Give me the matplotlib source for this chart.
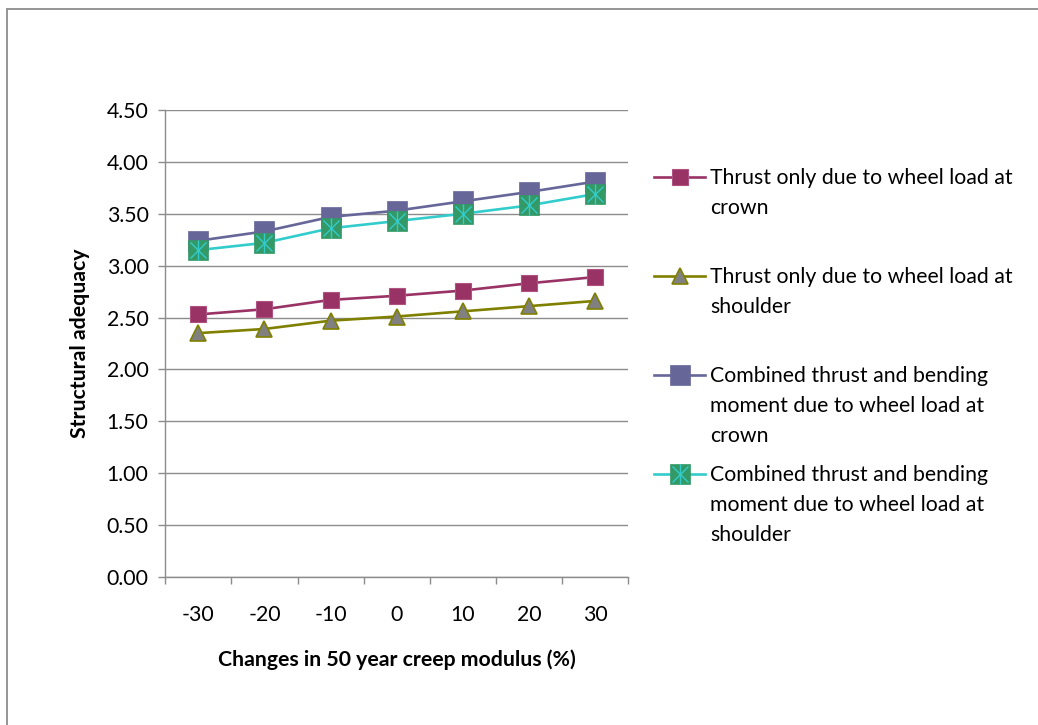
import matplotlib
matplotlib.use("Agg")
import matplotlib.pyplot as plt
from matplotlib.lines import Line2D
from matplotlib.patches import Rectangle

plt.rcParams['font.family'] = ['Lato', 'DejaVu Sans']

# Data
categories = ["-30", "-20", "-10", "0", "10", "20", "30"]
thrust_crown = [2.53, 2.58, 2.67, 2.71, 2.76, 2.83, 2.89]
thrust_shoulder = [2.35, 2.39, 2.47, 2.51, 2.56, 2.61, 2.66]
combined_crown = [3.24, 3.33, 3.47, 3.53, 3.62, 3.71, 3.81]
combined_shoulder = [3.15, 3.22, 3.36, 3.43, 3.50, 3.58, 3.69]
series_labels = [
    "Thrust only due to wheel load at\ncrown",
    "Thrust only due to wheel load at\nshoulder",
    "Combined thrust and bending\nmoment due to wheel load at\ncrown",
    "Combined thrust and bending\nmoment due to wheel load at\nshoulder",
]
y_ticks = [0.0, 0.5, 1.0, 1.5, 2.0, 2.5, 3.0, 3.5, 4.0, 4.5]

FS = 15.3
W, H = 1038, 725
fig = plt.figure(figsize=(W / 100, H / 100), dpi=100)
fig.patch.set_facecolor("white")

# outer chart frame
fig.patches.append(Rectangle((7 / W, -0.01), 1.2, (H - 9) / H + 0.01,
                             transform=fig.transFigure, fill=False,
                             edgecolor="#8c8c8c", linewidth=1.3))

ax = fig.add_axes([165.3 / W, (H - 577) / H, (628 - 165.3) / W, (577 - 110) / H])
x = list(range(len(categories)))

styles = [
    dict(color="#993366", marker="s", ms=11.3, mfc="#993366", mec="#b0527f", mew=0.8),
    dict(color="#808000", marker="^", ms=11.5, mfc="#808080", mec="#808000", mew=1.2),
    dict(color="#666699", marker="s", ms=15, mfc="#666699", mec="#666699", mew=0.5),
    dict(color="#33CCCC", marker="s", ms=15, mfc="#339966", mec="#339966", mew=0.5),
]
series = [thrust_crown, thrust_shoulder, combined_crown, combined_shoulder]
asterisk = (("x", 11.5), ("|", 14.5))

for i, (vals, st) in enumerate(zip(series, styles)):
    ax.plot(x, vals, color=st["color"], lw=1.9, marker=st["marker"], ms=st["ms"],
            mfc=st["mfc"], mec=st["mec"], mew=st["mew"], zorder=3 + i, clip_on=False)
# asterisk overlay on the last series
for m, sz in asterisk:
    ax.plot(x, combined_shoulder, ls="none", marker=m, ms=sz, mec="#33CCCC", mew=1.0,
            zorder=8, clip_on=False)

ax.set_xlim(-0.5, len(categories) - 0.5)
ax.set_ylim(0, 4.5)
ax.set_yticks(y_ticks)
ax.set_yticklabels([f"{v:.2f}" for v in y_ticks])
ax.yaxis.grid(True, color="#8c8c8c", lw=1.0)
ax.set_axisbelow(True)

ax.set_xticks([i - 0.5 for i in range(len(categories) + 1)])
ax.set_xticklabels([])
ax.set_xticks(x, minor=True)
ax.set_xticklabels(categories, minor=True)
ax.tick_params(axis="x", which="major", direction="out", length=5, color="#8c8c8c", width=1)
ax.tick_params(axis="x", which="minor", length=0, pad=20, labelsize=FS, labelcolor="black")
ax.tick_params(axis="y", direction="out", length=5, color="#8c8c8c", width=1, pad=7, labelsize=FS)

for s in ["top", "right"]:
    ax.spines[s].set_visible(False)
for s in ["left", "bottom"]:
    ax.spines[s].set_color("#8c8c8c")
    ax.spines[s].set_linewidth(1.0)

ax.set_xlabel("Changes in 50 year creep modulus (%)", fontsize=FS, fontweight="bold")
ax.xaxis.set_label_coords(0.5, -0.155)
ax.set_ylabel("Structural adequacy", fontsize=FS, fontweight="bold")
ax.yaxis.set_label_coords(-0.162, 0.5)

# legend, built entry by entry with the handle at the first text line
legend_y = [176.7, 275.7, 375.0, 473.7]
line_step = 29.7
for (label, st, yy, i) in zip(series_labels, styles, legend_y, range(4)):
    fy = 1 - yy / H
    fig.add_artist(Line2D([654 / W, 705 / W], [fy, fy], color=st["color"], lw=1.9,
                          transform=fig.transFigure))
    fig.add_artist(Line2D([679.5 / W], [fy], ls="none", marker=st["marker"], ms=st["ms"],
                          mfc=st["mfc"], mec=st["mec"], mew=st["mew"], transform=fig.transFigure))
    if i == 3:
        for m, sz in asterisk:
            fig.add_artist(Line2D([679.5 / W], [fy], ls="none", marker=m, ms=sz,
                                  mec="#33CCCC", mew=1.0, transform=fig.transFigure))
    for k, part in enumerate(label.split("\n")):
        fig.text(710 / W, 1 - (yy + 1.5 + k * line_step) / H, part, fontsize=FS,
                 va="center", ha="left")

fig.savefig("out.png", dpi=100)
